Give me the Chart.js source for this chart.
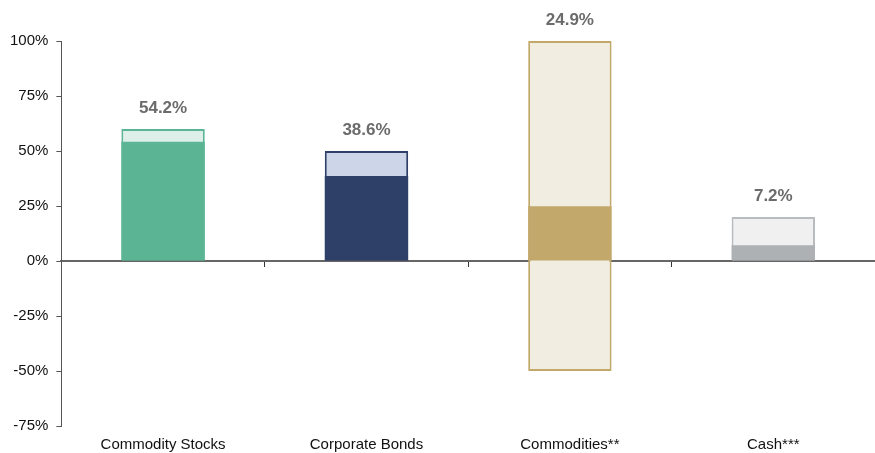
<!DOCTYPE html>
<html>
<head>
<meta charset="utf-8">
<script src="https://cdn.jsdelivr.net/npm/chart.js@4.4.1/dist/chart.umd.min.js"></script>
<style>
  html, body { margin: 0; padding: 0; background: #fff; }
  #wrap { width: 875px; height: 453px; }
</style>
</head>
<body>
<div id="wrap"><canvas id="rangeChart"></canvas></div>
<script>
// ===== Data =====
const categories = ['Commodity Stocks', 'Corporate Bonds', 'Commodities**', 'Cash***'];
const rangeLow = [0, 0, -50, 0];
const rangeHigh = [60, 50, 100, 20];
const currentValues = [54.2, 38.6, 24.9, 7.2];
const yTicks = [-75, -50, -25, 0, 25, 50, 75, 100];

// ===== Colours =====
const solidColors = ['#5bb594', '#2e4068', '#c2a86b', '#aeb1b4'];
const lightColors = ['#ddefe8', '#cdd6e9', '#f2ede1', '#f0f0f0'];
const edgeColors = ['#5bb594', '#2e4068', '#c2a86b', '#b9bcbf'];

const FONT = '"Liberation Sans", Arial, sans-serif';

// value labels above each range bar
const valueLabels = {
    id: 'valueLabels',
    afterDatasetsDraw(chart) {
        const ctx = chart.ctx;
        const rangeMeta = chart.getDatasetMeta(1);
        ctx.save();
        ctx.font = 'bold 17px ' + FONT;
        ctx.fillStyle = '#6b6b6b';
        ctx.textAlign = 'center';
        ctx.textBaseline = 'middle';
        rangeMeta.data.forEach((bar, i) => {
            const top = Math.min(bar.y, bar.base);
            ctx.fillText(currentValues[i].toFixed(1) + '%', bar.x, top - 21);
        });
        ctx.restore();
    }
};

new Chart(document.getElementById('rangeChart'), {
    type: 'bar',
    data: {
        labels: categories,
        datasets: [
            {
                label: 'Current',
                data: currentValues,
                backgroundColor: solidColors,
                borderWidth: 0,
                grouped: false,
                order: 0,
                categoryPercentage: 1,
                barPercentage: 0.41
            },
            {
                label: 'Range',
                data: rangeLow.map((lo, i) => [lo, rangeHigh[i]]),
                backgroundColor: lightColors,
                borderColor: edgeColors,
                borderWidth: 2,
                borderSkipped: false,
                grouped: false,
                order: 1,
                categoryPercentage: 1,
                barPercentage: 0.41
            }
        ]
    },
    options: {
        responsive: true,
        maintainAspectRatio: false,
        animation: false,
        layout: { padding: { top: 41, left: 2, right: 0, bottom: -11 } },
        plugins: {
            legend: { display: false },
            tooltip: { enabled: false }
        },
        scales: {
            x: {
                grid: { display: false, drawTicks: false },
                border: { display: false },
                ticks: {
                    padding: 10,
                    color: '#111',
                    font: { family: FONT, size: 15 }
                }
            },
            // zero line with category separators, drawn over the bars
            x2: {
                type: 'category',
                position: { y: 0 },
                offset: true,
                z: 1,
                grid: {
                    offset: true,
                    drawOnChartArea: false,
                    drawTicks: true,
                    tickLength: 5,
                    color: '#333'
                },
                border: { display: true, color: '#666', width: 2 },
                ticks: { display: false }
            },
            y: {
                min: -75,
                max: 100,
                afterBuildTicks: (axis) => { axis.ticks = yTicks.map(v => ({ value: v })); },
                grid: { display: true, drawOnChartArea: false, tickLength: 5, color: '#555' },
                border: { display: true, color: '#555', width: 1 },
                ticks: {
                    padding: 8,
                    color: '#111',
                    font: { family: FONT, size: 15 },
                    callback: (value) => value + '%'
                }
            }
        }
    },
    plugins: [valueLabels]
});
</script>
</body>
</html>
